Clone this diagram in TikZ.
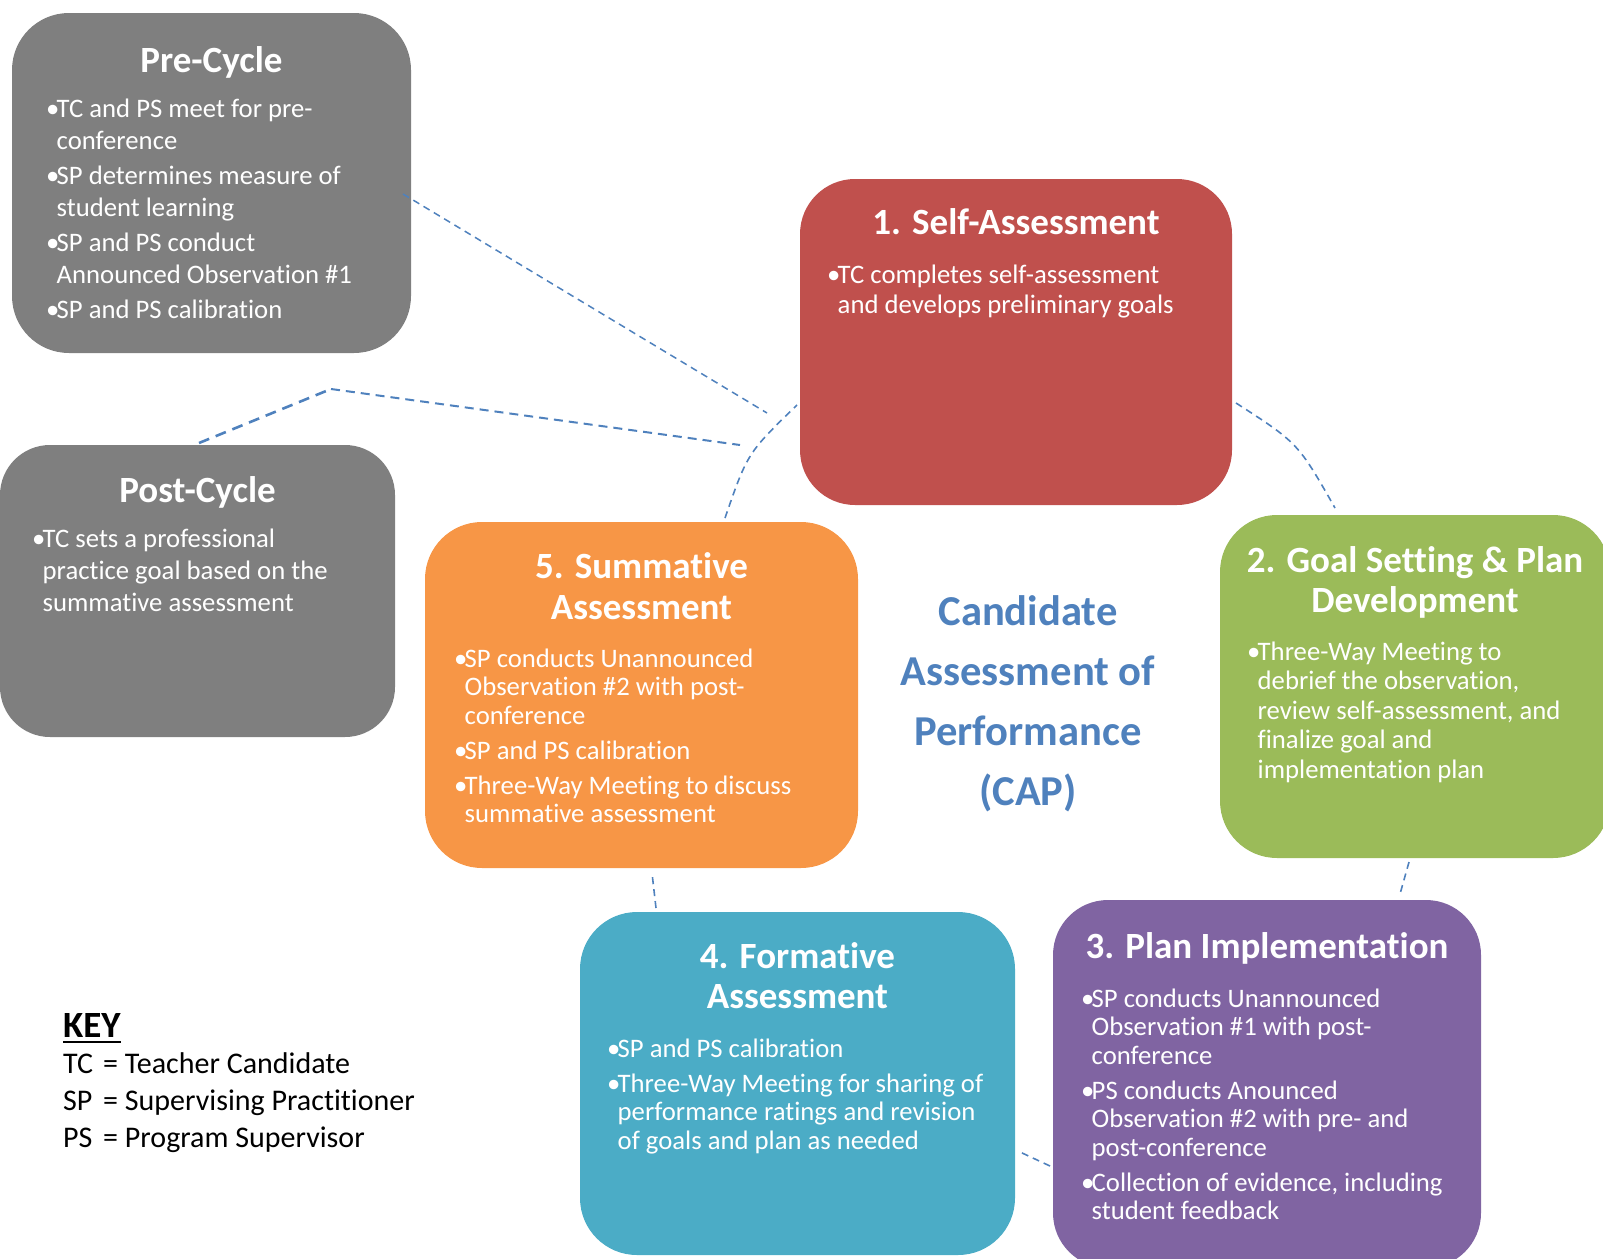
\documentclass[tikz,border=0pt]{standalone}
\usepackage{fontspec}
\setmainfont{Carlito}[Ligatures=NoCommon]
\usetikzlibrary{calc}
\definecolor{cgray}{HTML}{7F7F7F}
\definecolor{cred}{HTML}{C0504D}
\definecolor{cgreen}{HTML}{9BBB59}
\definecolor{cpurple}{HTML}{8064A2}
\definecolor{cteal}{HTML}{4BACC6}
\definecolor{corange}{HTML}{F79646}
\definecolor{cblue}{HTML}{4F81BD}
\newlength\bw \setlength\bw{10.5pt}
\newcommand\bitem[1]{\hbox{\makebox[\bw][l]{\textbullet}#1}}
\newcommand\contline[1]{\hbox{\hspace*{\bw}#1}}
\newcommand\bgap{\vskip 6.5pt}
\newcommand\ctr[1]{\hbox to 0pt{\hss#1\hss}}
\newcommand\titlefont{\fontsize{37}{40}\selectfont\bfseries}
\newcommand\bodyfont{\fontsize{26.7}{28.5}\selectfont}
\newcommand\keyfont{\fontsize{30}{37}\selectfont}
\newcommand\myul[1]{\setbox0\hbox{#1}\rlap{\rule[-6pt]{\wd0}{2.2pt}}\box0}
\tikzset{
  box/.style={draw=none, inner sep=0pt, rounded corners=55pt},
  ttl/.style={anchor=base, inner sep=0pt, text=white, font=\titlefont},
  bdy/.style={anchor=base west, inner sep=0pt, text=white, font=\bodyfont},
  keytxt/.style={anchor=base west, inner sep=0pt, text=black, font=\keyfont},
  cyc/.style={draw=cblue, line width=1.6pt, dash pattern=on 7pt off 5pt},
  cycthick/.style={draw=cblue, line width=2.6pt, dash pattern=on 11pt off 7pt},
}
\begin{document}
\begin{tikzpicture}[x=1pt,y=-1pt]
\useasboundingbox (0,0) rectangle (1603,1258);
\begin{scope}
\clip (0,0) rectangle (1603,1258);
% boxes
\node[box, fill=cgray, minimum width=399pt, minimum height=340pt, rounded corners=57pt] (pre) at (211.5,183) {};
\node[box, fill=cgray, minimum width=395pt, minimum height=292pt, rounded corners=50pt] (post) at (197.5,591) {};
\node[box, fill=cred, minimum width=432pt, minimum height=326pt] (self) at (1016,342) {};
\node[box, fill=cgreen, minimum width=390pt, minimum height=343pt, rounded corners=57pt] (goal) at (1415,686.5) {};
\node[box, fill=cpurple, minimum width=428pt, minimum height=368pt] (plan) at (1267,1084) {};
\node[box, fill=cteal, minimum width=435pt, minimum height=343pt, rounded corners=57pt] (form) at (797.5,1083.5) {};
\node[box, fill=corange, minimum width=433pt, minimum height=346pt, rounded corners=57pt] (summ) at (641.5,695) {};

% titles
\node[ttl] (pretitle) at (211.5,72) {Pre-Cycle};
\node[ttl] (posttitle) at (197.5,502) {Post-Cycle};
\node[ttl] (selftitle) at (1016,234) {1. Self-Assessment};
\node[ttl] (goaltitle) at (1415,572) {\vtop{\ctr{2. Goal Setting \& Plan}\ctr{Development}}};
\node[ttl] (plantitle) at (1267,958) {3. Plan Implementation};
\node[ttl] (formtitle) at (797.5,968) {\vtop{\ctr{4. Formative}\ctr{Assessment}}};
\node[ttl] (summtitle) at (641.5,578) {\vtop{\baselineskip=41pt\ctr{5. Summative}\ctr{Assessment}}};

% bodies
\node[bdy] (prebody) at (46,117) {\vtop{\baselineskip=32pt
  \bitem{TC and PS meet for pre-}\contline{conference}\vskip3pt
  \bitem{SP determines measure of}\contline{student learning}\vskip3pt
  \bitem{SP and PS conduct}\contline{Announced Observation \#1}\vskip3pt
  \bitem{SP and PS calibration}}};
\node[bdy] (postbody) at (32,547) {\vtop{\baselineskip=32pt
  \bitem{TC sets a professional}\contline{practice goal based on the}\contline{summative assessment}}};
\node[bdy] (selfbody) at (827,283) {\vtop{\baselineskip=30pt
  \bitem{TC completes self-assessment}\contline{and develops preliminary goals}}};
\node[bdy] (goalbody) at (1247,660) {\vtop{\baselineskip=29.5pt
  \bitem{Three-Way Meeting to}\contline{debrief the observation,}\contline{review self-assessment, and}\contline{finalize goal and}\contline{implementation plan}}};
\node[bdy] (planbody) at (1081,1007) {\vtop{
  \bitem{SP conducts Unannounced}\contline{Observation \#1 with post-}\contline{conference}\bgap
  \bitem{PS conducts Anounced}\contline{Observation \#2 with pre- and}\contline{post-conference}\bgap
  \bitem{Collection of evidence, including}\contline{student feedback}}};
\node[bdy] (formbody) at (607,1057) {\vtop{
  \bitem{SP and PS calibration}\bgap
  \bitem{Three-Way Meeting for sharing of}\contline{performance ratings and revision}\contline{of goals and plan as needed}}};
\node[bdy] (summbody) at (454,667) {\vtop{
  \bitem{SP conducts Unannounced}\contline{Observation \#2 with post-}\contline{conference}\bgap
  \bitem{SP and PS calibration}\bgap
  \bitem{Three-Way Meeting to discuss}\contline{summative assessment}}};

% centre title
\node[anchor=base, inner sep=0pt, text=cblue, font=\fontsize{42.6}{60}\selectfont\bfseries] (cap) at (1028,625)
  {\vtop{\ctr{Candidate}\ctr{Assessment of}\ctr{Performance}\ctr{(CAP)}}};

% key
\node[anchor=base west, inner sep=0pt, text=black, font=\fontsize{37}{40}\selectfont\bfseries] (keyhead) at (63,1037) {\myul{KEY}};
\node[keytxt] (keytc) at (63,1073) {\makebox[40pt][l]{TC}= Teacher Candidate};
\node[keytxt] (keysp) at (63,1110) {\makebox[40pt][l]{SP}= Supervising Practitioner};
\node[keytxt] (keyps) at (63,1147) {\makebox[40pt][l]{PS}= Program Supervisor};

% connector end points
\coordinate (preA) at (403,194);
\coordinate (hubA) at (767,413);
\coordinate (postA) at (199,443);
\coordinate (postK) at (331,389);
\coordinate (hubB) at (740,445);
\coordinate (s5) at (725,518);
\coordinate (s1a) at (797,405);
\coordinate (s1b) at (1236,403);
\coordinate (s2a) at (1335,508);
\coordinate (s2b) at (1409,862);
\coordinate (s3a) at (1400,894);
\coordinate (s3b) at (1050,1166);
\coordinate (s4a) at (1020,1152);
\coordinate (s4b) at (656,908);
\coordinate (s5b) at (652,873);

\draw[cyc, line width=1.5pt] (preA) -- (hubA);
\draw[cycthick] (postA) -- (postK);
\draw[cyc, line width=2pt, dash pattern=on 9pt off 6pt] (postK) -- (hubB);
\draw[cyc] (s5) .. controls (747.5,453) .. (s1a);
\draw[cyc] (s1b) .. controls (1298,443) .. (s2a);
\draw[cyc] (s2b) -- (s3a);
\draw[cyc] (s3b) -- (s4a);
\draw[cyc] (s4b) -- (s5b);
\end{scope}
\end{tikzpicture}
\end{document}
